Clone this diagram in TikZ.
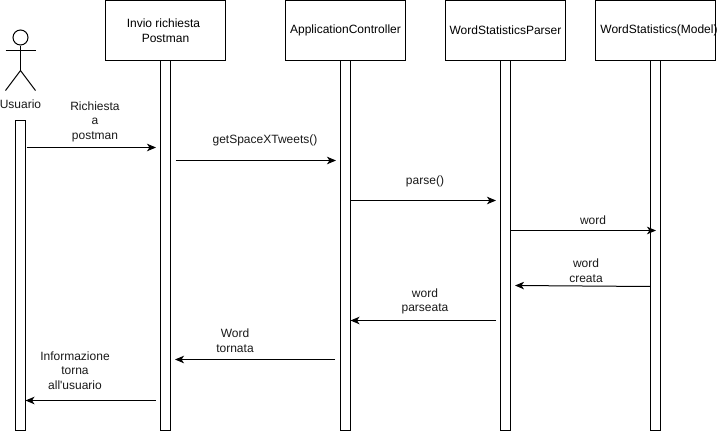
\documentclass[tikz,border=0pt]{standalone}
\usepackage{fontspec}
\newfontfamily\plainf{Liberation Sans}
\setmainfont{Liberation Sans}
\usetikzlibrary{arrows.meta}
\tikzset{
  every picture/.style={x=1pt,y=-1pt},
  lbl/.style={inner sep=0pt,align=center,font=\plainf\fontsize{12}{14.6}\selectfont,text=black!90},
  headbox/.style={draw=black,line width=1pt,minimum width=120pt,minimum height=60pt,inner sep=0pt,align=center,font=\plainf\fontsize{12}{15}\selectfont,fill=white},
  lifeline/.style={draw=black,line width=1pt,minimum width=10pt,inner sep=0pt,fill=white},
  msg/.style={draw=black,line width=1pt,-{Stealth[length=9pt,width=7.5pt,inset=2.5pt]}},
  stick/.style={draw=black,line width=1pt}
}
\begin{document}
\begin{tikzpicture}
\useasboundingbox (0,0) rectangle (726,431);
% lifelines
\node[lifeline,minimum height=310pt] (u) at (20.5,275.5) {};
\node[lifeline,minimum height=370pt] (l1) at (165.5,245.5) {};
\node[lifeline,minimum height=370pt] (l2) at (345.5,245.5) {};
\node[lifeline,minimum height=370pt] (l3) at (505.5,245.5) {};
\node[lifeline,minimum height=370pt] (l4) at (655.5,245.5) {};
% heads
\node[headbox] (h1) at (165.5,30.5) {Invio richiesta\hspace*{4pt}\\Postman};
\node[headbox] (h2) at (345.5,30.5) {ApplicationController};
\node[headbox] (h3) at (505.5,30.5) {WordStatisticsParser};
\node[headbox] (h4) at (655.5,30.5) {\makebox[118pt]{\hspace*{7pt}WordStatistics(Model)}};
% actor
\node[stick,circle,minimum size=15pt,inner sep=0pt] (head) at (20.5,37.5) {};
\coordinate (hip) at (20.5,70.5);
\coordinate (armL) at (5.5,50.5);
\coordinate (armR) at (35.5,50.5);
\coordinate (footL) at (5.5,90.5);
\coordinate (footR) at (35.5,90.5);
\draw[stick] (head.south) -- (hip);
\draw[stick] (armL) -- (armR);
\draw[stick] (footL) -- (hip) -- (footR);
\node[lbl] (ulabel) at (20.5,104) {Usuario};
% message ends
\coordinate (a1) at (26.5,147.5);  \coordinate (b1) at (156,147.5);
\coordinate (a2) at (175.5,160.5); \coordinate (b2) at (336,160.5);
\coordinate (a3) at (350.5,200.5); \coordinate (b3) at (496,200.5);
\coordinate (a4) at (510.5,230.5); \coordinate (b4) at (656,230.5);
\coordinate (a5) at (650.5,286.5); \coordinate (b5) at (515,285.5);
\coordinate (a6) at (496,320.5); \coordinate (b6) at (350.5,320.5);
\coordinate (a7) at (335,359.5); \coordinate (b7) at (175,359.5);
\coordinate (a8) at (155.5,400.5); \coordinate (b8) at (25.5,400.5);
\foreach \i in {1,...,8} \draw[msg] (a\i) -- (b\i);
% labels
\node[lbl] (t1) at (95,121.5) {Richiesta\\a\\postman};
\node[lbl] (t2) at (265,140.5) {getSpaceXTweets()};
\node[lbl] (t3) at (425,181) {parse()};
\node[lbl] (t4) at (593,220) {word};
\node[lbl] (t5) at (586,271) {word\\creata};
\node[lbl] (t6) at (425,301.5) {word\\parseata};
\node[lbl] (t7) at (235,341) {Word\\tornata};
\node[lbl] (t8) at (75,370.5) {Informazione\\torna\\all'usuario};
\end{tikzpicture}
\end{document}
